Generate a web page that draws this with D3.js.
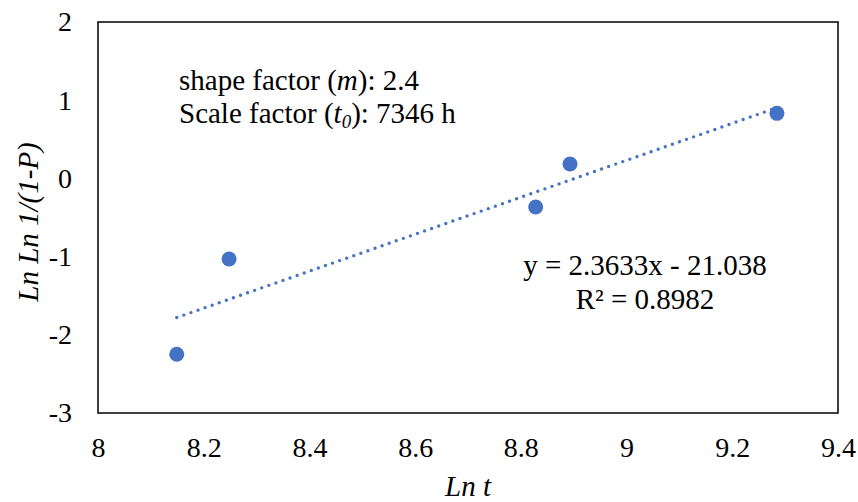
<!DOCTYPE html>
<html>
<head>
<meta charset="utf-8">
<script src="https://cdn.jsdelivr.net/npm/d3@7"></script>
<style>
  html, body { margin: 0; padding: 0; background: #fff; }
  svg text { font-family: 'Liberation Serif', 'DejaVu Serif', serif; fill: #000; }
</style>
</head>
<body>
<svg id="chart" width="858" height="502"></svg>
<script>
// Weibull plot data: Ln t against Ln Ln 1/(1-P)
const lnT = [8.149, 8.248, 8.828, 8.893, 9.2845];
const lnLnP = [-2.249, -1.03, -0.366, 0.184, 0.832];

// Linear trendline coefficients (y = slope*x + intercept)
const trendSlope = [2.3633];
const trendIntercept = [-21.038];
const rSquared = [0.8982];

const xTicks = [8, 8.2, 8.4, 8.6, 8.8, 9, 9.2, 9.4];
const yTicks = [-3, -2, -1, 0, 1, 2];

const FONT = "'Liberation Serif', 'DejaVu Serif', serif";

const svg = d3.select("#chart");
const plot = { left: 98, right: 838, top: 22, bottom: 413 };

const x = d3.scaleLinear().domain([8, 9.4]).range([plot.left, plot.right]);
const y = d3.scaleLinear().domain([-3, 2]).range([plot.bottom, plot.top]);

// plot frame
svg.append("rect")
  .attr("x", plot.left).attr("y", plot.top)
  .attr("width", plot.right - plot.left).attr("height", plot.bottom - plot.top)
  .attr("fill", "none").attr("stroke", "#000").attr("stroke-width", 1.5);

// axes (labels only, the frame draws the lines)
const xAxis = d3.axisBottom(x).tickValues(xTicks).tickSize(0).tickPadding(24)
  .tickFormat(d => String(+d.toFixed(1)));
const gx = svg.append("g").attr("transform", `translate(0,${plot.bottom})`).call(xAxis)
  .attr("font-family", FONT).attr("font-size", 28);
gx.select(".domain").remove();

const yAxis = d3.axisLeft(y).tickValues(yTicks).tickSize(0).tickPadding(26)
  .tickFormat(d => String(d));
const gy = svg.append("g").attr("transform", `translate(${plot.left},0)`).call(yAxis)
  .attr("font-family", FONT).attr("font-size", 28);
gy.select(".domain").remove();

// trendline over the data range
const xr = d3.extent(lnT);
const trend = xr.map(v => [v, trendSlope[0] * v + trendIntercept[0]]);
svg.append("path")
  .datum(trend)
  .attr("d", d3.line().x(d => x(d[0])).y(d => y(d[1])))
  .attr("fill", "none")
  .attr("stroke", "#4472C4")
  .attr("stroke-width", 3.4)
  .attr("stroke-linecap", "round")
  .attr("stroke-dasharray", "0 7.5");

// data points
svg.append("g").selectAll("circle")
  .data(lnT.map((v, i) => [v, lnLnP[i]]))
  .join("circle")
  .attr("cx", d => x(d[0]))
  .attr("cy", d => y(d[1]))
  .attr("r", 7.5)
  .attr("fill", "#4472C4");

// parameter annotation
const ann = svg.append("g").attr("font-family", FONT).attr("font-size", 29);
const t1 = ann.append("text").attr("x", 179).attr("y", 90);
t1.append("tspan").text("shape factor (");
t1.append("tspan").attr("font-style", "italic").text("m");
t1.append("tspan").text("): 2.4");
const t2 = ann.append("text").attr("x", 179).attr("y", 123);
t2.append("tspan").text("Scale factor (");
t2.append("tspan").attr("font-style", "italic").text("t");
t2.append("tspan").attr("font-style", "italic").attr("font-size", 19).attr("dy", 5).text("0");
t2.append("tspan").attr("dy", -5).text("): 7346 h");

// trendline equation
const eq = svg.append("g").attr("font-family", FONT).attr("font-size", 29).attr("text-anchor", "middle");
eq.append("text").attr("x", 645).attr("y", 275)
  .text(`y = ${trendSlope[0]}x - ${Math.abs(trendIntercept[0])}`);
eq.append("text").attr("x", 645).attr("y", 309)
  .text(`R² = ${rSquared[0]}`);

// axis titles
svg.append("text")
  .attr("x", 468).attr("y", 496)
  .attr("text-anchor", "middle")
  .attr("font-family", FONT).attr("font-size", 29).attr("font-style", "italic")
  .text("Ln t");

svg.append("text")
  .attr("transform", "translate(38,222) rotate(-90)")
  .attr("text-anchor", "middle")
  .attr("font-family", FONT).attr("font-size", 29).attr("font-style", "italic")
  .text("Ln Ln 1/(1-P)");
</script>
</body>
</html>
